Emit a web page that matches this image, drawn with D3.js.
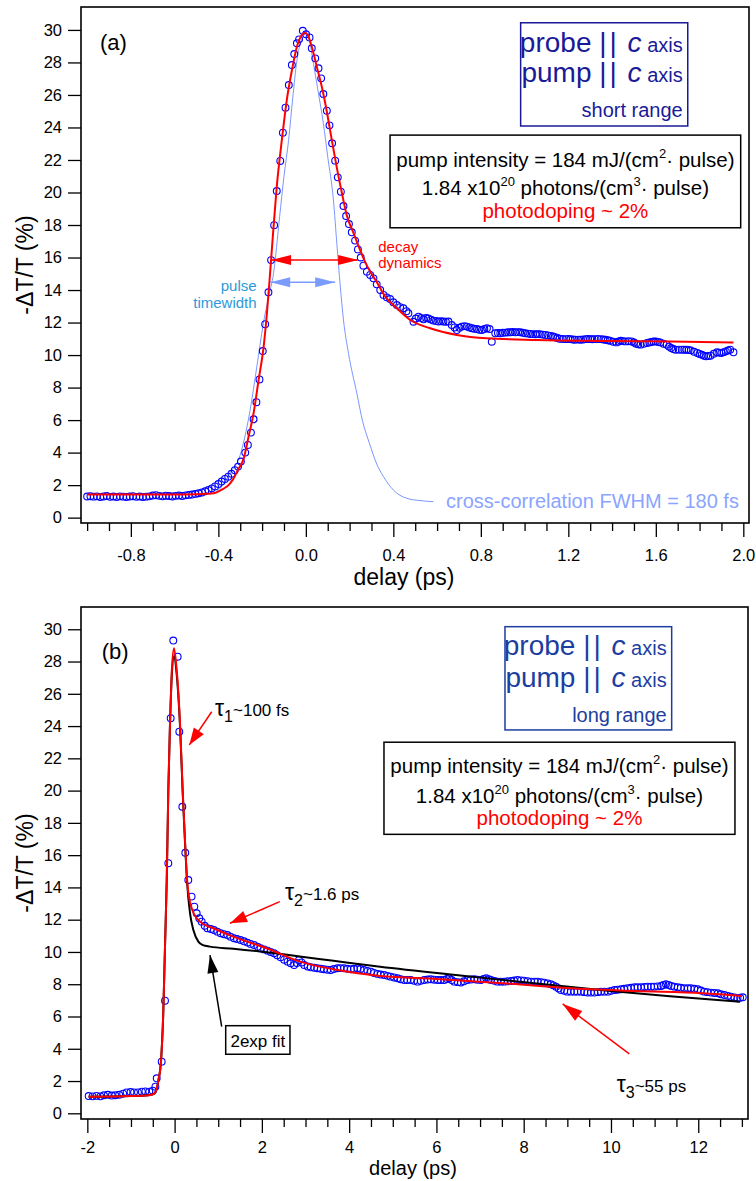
<!DOCTYPE html>
<html>
<head>
<meta charset="utf-8">
<script src="https://d3js.org/d3.v7.min.js"></script>
<style>
  body { margin: 0; background: #fff; font-family: "Liberation Sans", Arial, Helvetica, sans-serif; }
  .frame { fill: none; stroke: #000; stroke-width: 1.6px; }
  .axis path { display: none; }
  .axis line { stroke: #000; stroke-width: 1.3px; }
  .axis text { font-size: 16.5px; fill: #000; font-family: "Liberation Sans", Arial, sans-serif; }
  .dot { fill: none; stroke: #0000ff; stroke-width: 1.1px; }
  .fit { fill: none; stroke: #ff0000; stroke-width: 2px; }
  .fit2 { fill: none; stroke: #000; stroke-width: 2px; }
  .pulse { fill: none; stroke: #7b96ff; stroke-width: 1px; }
  .title { font-size: 23px; fill: #000; }
</style>
</head>
<body>
<script>
// ---------- panel (a): short range ----------
// measured -dT/T (%) vs delay (ps)
var dataA = [
  [-1.000,1.30],[-0.985,1.32],[-0.970,1.29],[-0.955,1.31],[-0.940,1.27],[-0.925,1.30],[-0.910,1.33],
  [-0.895,1.28],[-0.880,1.30],[-0.865,1.27],[-0.850,1.31],[-0.835,1.29],[-0.820,1.27],[-0.805,1.30],
  [-0.790,1.32],[-0.775,1.28],[-0.760,1.30],[-0.745,1.27],[-0.730,1.29],[-0.715,1.31],[-0.700,1.36],
  [-0.685,1.38],[-0.670,1.34],[-0.655,1.31],[-0.640,1.35],[-0.625,1.33],[-0.610,1.30],[-0.595,1.34],
  [-0.580,1.36],[-0.565,1.33],[-0.550,1.37],[-0.535,1.40],[-0.520,1.42],[-0.505,1.46],[-0.490,1.50],
  [-0.475,1.55],[-0.460,1.62],[-0.445,1.70],[-0.430,1.80],[-0.415,1.92],[-0.400,2.07],[-0.385,2.22],
  [-0.370,2.38],[-0.355,2.52],[-0.340,2.70],[-0.325,2.92],[-0.310,3.14],[-0.297,3.45],[-0.277,4.00],
  [-0.265,4.47],[-0.251,5.23],[-0.239,6.05],[-0.226,7.10],[-0.212,8.50],[-0.197,10.25],[-0.186,11.90],
  [-0.171,13.86],[-0.159,15.84],[-0.145,17.99],[-0.133,20.09],[-0.117,21.94],[-0.105,23.68],[-0.093,25.22],
  [-0.078,26.61],[-0.064,27.84],[-0.053,28.52],[-0.041,29.18],[-0.031,29.42],[-0.014,29.95],[0.001,29.73],
  [0.017,29.54],[0.027,28.87],[0.043,28.25],[0.058,27.64],[0.070,27.02],[0.080,26.06],[0.096,25.03],
  [0.108,24.13],[0.120,23.03],[0.134,21.96],[0.146,20.93],[0.160,20.05],[0.172,19.17],[0.184,18.55],
  [0.197,18.06],[0.210,17.55],[0.225,17.04],[0.238,16.50],[0.251,16.00],[0.263,15.50],[0.279,15.13],
  [0.294,14.93],[0.309,14.72],[0.324,14.35],[0.340,14.00],[0.355,13.70],[0.370,13.55],[0.385,13.45],
  [0.400,13.25],[0.416,13.08],[0.431,12.95],[0.446,12.88],[0.460,12.70],[0.469,12.57],[0.492,12.05],
  [0.503,12.25],[0.515,12.36],[0.527,12.28],[0.538,12.20],[0.550,12.28],[0.560,12.25],[0.572,12.18],
  [0.583,12.12],[0.595,12.10],[0.606,12.06],[0.618,12.08],[0.629,12.06],[0.640,12.05],[0.652,12.06],
  [0.667,11.85],[0.680,11.70],[0.690,11.54],[0.702,11.68],[0.713,11.75],[0.725,11.78],[0.736,11.75],
  [0.748,11.70],[0.759,11.65],[0.770,11.62],[0.782,11.60],[0.793,11.56],[0.805,11.54],[0.816,11.60],
  [0.828,11.65],[0.840,11.60],[0.850,10.82],[0.866,11.34],[0.878,11.36],[0.889,11.34],[0.900,11.37],
  [0.912,11.38],[0.924,11.40],[0.935,11.40],[0.946,11.42],[0.958,11.40],[0.970,11.41],[0.980,11.40],
  [0.992,11.37],[1.003,11.34],[1.015,11.32],[1.026,11.30],[1.038,11.29],[1.050,11.28],[1.060,11.29],
  [1.070,11.28],[1.083,11.26],[1.095,11.24],[1.107,11.21],[1.120,11.18],[1.130,11.14],[1.140,11.10],
  [1.150,11.05],[1.160,11.00],[1.175,10.99],[1.190,10.98],[1.200,10.99],[1.210,10.98],[1.220,10.96],
  [1.230,10.94],[1.245,10.95],[1.256,10.94],[1.268,10.96],[1.280,10.98],[1.290,10.99],[1.300,10.98],
  [1.310,10.97],[1.320,10.98],[1.335,10.99],[1.350,10.98],[1.360,10.96],[1.370,10.94],[1.380,10.91],
  [1.390,10.88],[1.405,10.82],[1.420,10.78],[1.430,10.83],[1.440,10.88],[1.450,10.86],[1.460,10.84],
  [1.475,10.85],[1.490,10.84],[1.500,10.77],[1.510,10.70],[1.520,10.66],[1.530,10.64],[1.545,10.69],
  [1.560,10.74],[1.570,10.78],[1.580,10.80],[1.590,10.83],[1.600,10.84],[1.610,10.81],[1.620,10.78],
  [1.635,10.70],[1.650,10.64],[1.660,10.52],[1.670,10.43],[1.680,10.37],[1.690,10.33],[1.705,10.33],
  [1.720,10.33],[1.730,10.33],[1.740,10.33],[1.750,10.31],[1.760,10.29],[1.775,10.20],[1.790,10.13],
  [1.800,10.07],[1.810,10.02],[1.820,9.96],[1.830,9.92],[1.840,9.94],[1.850,9.96],[1.865,10.08],
  [1.880,10.17],[1.890,10.15],[1.900,10.13],[1.910,10.18],[1.920,10.23],[1.930,10.28],[1.940,10.33],
  [1.955,10.17]
];
// fit curve (red)
var fitA = [
  [-1.00,1.42],[-0.80,1.42],[-0.60,1.42],[-0.50,1.44],[-0.45,1.47],[-0.422,1.50],[-0.38,1.75],
  [-0.35,2.05],[-0.331,2.40],[-0.31,2.95],[-0.285,3.60],[-0.262,4.98],[-0.239,6.42],[-0.216,8.47],
  [-0.193,10.52],[-0.178,12.57],[-0.166,14.6],[-0.151,17.3],[-0.133,20.36],[-0.11,23.2],[-0.087,25.7],
  [-0.064,27.5],[-0.041,28.97],[-0.018,29.7],[-0.006,29.83],[0.007,29.73],[0.027,28.97],[0.05,27.74],
  [0.073,26.5],[0.096,24.97],[0.119,23.2],[0.142,21.5],[0.165,19.95],[0.187,18.6],[0.218,17.5],
  [0.248,16.46],[0.279,15.5],[0.30,15.0],[0.324,14.5],[0.36,13.65],[0.416,12.88],[0.477,12.16],
  [0.568,11.65],[0.69,11.24],[0.827,11.03],[1.056,10.93],[1.36,10.87],[1.665,10.83],[1.955,10.77]
];
// cross-correlation pulse (light blue)
var pulseA = [
  [-0.42,1.45],[-0.38,2.0],[-0.34,2.9],[-0.308,3.55],[-0.28,4.9],[-0.255,6.6],[-0.224,9.3],
  [-0.194,11.96],[-0.17,13.6],[-0.148,15.0],[-0.12,18.5],[-0.10,21.0],[-0.079,23.2],[-0.06,25.8],
  [-0.041,28.1],[-0.02,29.4],[0.0,29.75],[0.015,29.4],[0.035,27.9],[0.055,26.3],[0.08,24.25],
  [0.10,22.2],[0.126,19.54],[0.142,16.8],[0.157,14.3],[0.172,12.16],[0.195,10.1],[0.233,7.65],
  [0.26,5.9],[0.29,4.6],[0.324,3.3],[0.355,2.52],[0.40,1.70],[0.461,1.19],[0.522,1.05],[0.583,0.98]
];
var ticksAMajor = [-0.8, -0.4, 0.0, 0.4, 0.8, 1.2, 1.6, 2.0];
var ticksAMinor = [-1.0,-0.9,-0.7,-0.6,-0.5,-0.3,-0.2,-0.1,0.1,0.2,0.3,0.5,0.6,0.7,0.9,1.0,1.1,1.3,1.4,1.5,1.7,1.8,1.9];

// ---------- panel (b): long range ----------
var dataB = [
  [-1.97,1.07],[-1.88,1.05],[-1.79,1.08],[-1.70,1.05],[-1.62,1.12],[-1.53,1.15],[-1.44,1.10],
  [-1.36,1.12],[-1.27,1.15],[-1.18,1.22],[-1.10,1.30],[-1.01,1.32],[-0.93,1.30],[-0.84,1.30],
  [-0.75,1.34],[-0.67,1.36],[-0.58,1.34],[-0.50,1.40],[-0.44,1.65],[-0.41,2.17],[-0.296,3.20],
  [-0.22,6.98],[-0.144,15.5],[-0.09,24.49],[-0.03,29.3],[0.07,28.3],[0.108,23.65],[0.177,19.0],
  [0.245,16.15],[0.314,14.46],[0.39,13.43],[0.452,12.81],[0.506,12.4],[0.566,12.09],[0.62,11.88],
  [0.69,11.62],[0.75,11.47],[0.83,11.42],[0.90,11.36],[0.98,11.26],[1.055,11.16],[1.13,11.10],
  [1.21,11.05],[1.28,10.95],[1.36,10.85],[1.43,10.80],[1.51,10.74],[1.59,10.66],[1.67,10.58],
  [1.74,10.50],[1.82,10.43],[1.90,10.33],[1.97,10.23],[2.05,10.16],[2.13,10.08],[2.20,10.00],
  [2.28,9.92],[2.35,9.80],[2.43,9.67],[2.51,9.52],[2.59,9.40],[2.66,9.30],[2.74,9.19],[2.80,9.32],
  [2.85,9.50],[2.91,9.35],[2.97,9.19],[3.05,9.10],[3.12,9.05],[3.20,9.02],[3.27,8.99],[3.35,8.96],
  [3.42,8.93],[3.50,8.90],[3.58,8.88],[3.65,8.94],[3.73,8.99],[3.80,9.00],[3.88,8.99],[3.96,8.96],
  [4.04,8.93],[4.11,8.96],[4.19,8.99],[4.26,8.94],[4.34,8.88],[4.42,8.83],[4.50,8.78],[4.57,8.70],
  [4.65,8.64],[4.72,8.60],[4.80,8.57],[4.88,8.52],[4.95,8.47],[5.03,8.42],[5.11,8.37],[5.18,8.31],
  [5.26,8.26],[5.33,8.26],[5.41,8.26],[5.49,8.21],[5.57,8.16],[5.64,8.21],[5.72,8.26],[5.80,8.29],
  [5.87,8.31],[5.95,8.28],[6.03,8.26],[6.10,8.26],[6.18,8.26],[6.24,8.32],[6.29,8.37],[6.35,8.26],
  [6.41,8.16],[6.49,8.13],[6.56,8.10],[6.63,8.18],[6.71,8.26],[6.79,8.29],[6.87,8.31],[6.94,8.28],
  [7.02,8.26],[7.08,8.32],[7.14,8.37],[7.20,8.31],[7.25,8.26],[7.33,8.21],[7.40,8.16],[7.48,8.16],
  [7.55,8.16],[7.63,8.18],[7.71,8.20],[7.78,8.23],[7.86,8.26],[7.94,8.24],[8.01,8.22],[8.09,8.19],
  [8.17,8.16],[8.25,8.16],[8.32,8.16],[8.40,8.13],[8.47,8.10],[8.55,8.05],[8.62,8.00],[8.68,7.93],
  [8.74,7.85],[8.80,7.74],[8.85,7.64],[8.93,7.59],[9.00,7.54],[9.08,7.54],[9.16,7.54],[9.23,7.54],
  [9.31,7.54],[9.39,7.51],[9.46,7.48],[9.54,7.48],[9.62,7.48],[9.70,7.51],[9.77,7.54],[9.85,7.54],
  [9.93,7.54],[10.00,7.59],[10.08,7.64],[10.15,7.66],[10.23,7.69],[10.30,7.72],[10.38,7.75],
  [10.46,7.78],[10.54,7.81],[10.61,7.81],[10.69,7.81],[10.77,7.83],[10.84,7.85],[10.92,7.85],
  [10.99,7.85],[11.07,7.87],[11.15,7.89],[11.20,7.95],[11.26,8.00],[11.32,7.95],[11.38,7.89],
  [11.45,7.85],[11.53,7.81],[11.60,7.78],[11.68,7.75],[11.76,7.75],[11.83,7.75],[11.91,7.72],
  [11.99,7.69],[12.06,7.61],[12.14,7.54],[12.21,7.51],[12.29,7.48],[12.37,7.46],[12.45,7.44],
  [12.52,7.38],[12.60,7.33],[12.68,7.28],[12.75,7.23],[12.83,7.18],[12.90,7.13],[12.96,7.16],[13.02,7.19]
];
// 3-exponential fit (red)
var fitB = [
  [-1.97,1.03],[-1.0,1.07],[-0.6,1.12],[-0.46,1.24],[-0.37,2.06],[-0.31,3.3],[-0.26,6.2],
  [-0.22,10.33],[-0.18,14.46],[-0.144,20.04],[-0.105,24.18],[-0.067,27.28],[-0.014,28.83],
  [0.048,27.48],[0.124,24.18],[0.185,20.04],[0.238,16.94],[0.292,14.26],[0.392,12.71],[0.58,11.88],
  [0.887,11.47],[1.345,10.95],[2.11,10.23],[2.87,9.40],[3.64,8.93],[4.71,8.51],[6.0,8.33],
  [7.53,8.06],[9.06,7.75],[10.59,7.58],[12.11,7.44],[13.0,7.27]
];
// 2-exponential fit (black)
var fit2expB = [
  [-1.97,1.03],[-1.0,1.07],[-0.6,1.12],[-0.46,1.24],[-0.37,2.06],[-0.31,3.3],[-0.26,6.2],
  [-0.22,10.33],[-0.18,14.46],[-0.144,20.04],[-0.105,24.18],[-0.067,27.0],[-0.014,28.3],
  [0.048,27.2],[0.124,24.0],[0.185,19.9],[0.238,16.8],[0.292,14.1],[0.353,12.4],[0.43,11.36],
  [0.544,10.64],[0.65,10.42],[0.81,10.33],[1.345,10.20],[2.11,9.98],[2.87,9.72],[3.64,9.45],
  [4.71,9.08],[6.77,8.48],[8.30,8.04],[9.82,7.63],[11.35,7.25],[12.96,6.92]
];
var ticksBMajor = [-2, 0, 2, 4, 6, 8, 10, 12];
var ticksBMinor = [-1.5,-1,-0.5,0.5,1,1.5,2.5,3,3.5,4.5,5,5.5,6.5,7,7.5,8.5,9,9.5,10.5,11,11.5,12.5,13];

var ticksY = [0, 2, 4, 6, 8, 10, 12, 14, 16, 18, 20, 22, 24, 26, 28, 30];

var svg = d3.select("body").append("svg")
    .attr("width", 756)
    .attr("height", 1181);

// arrow helper: line from (x1,y1) to tip (x2,y2), pixel coords
function arrow(g, x1, y1, x2, y2, color, len, half, both, width) {
    function head(tx, ty, fx, fy) {
        var a = Math.atan2(ty - fy, tx - fx);
        var bx = tx - len * Math.cos(a), by = ty - len * Math.sin(a);
        var px = -Math.sin(a) * half, py = Math.cos(a) * half;
        g.append("path")
            .attr("d", "M" + tx + "," + ty + "L" + (bx + px) + "," + (by + py) + "L" + (bx - px) + "," + (by - py) + "Z")
            .attr("fill", color);
    }
    g.append("line")
        .attr("x1", x1).attr("y1", y1).attr("x2", x2).attr("y2", y2)
        .attr("stroke", color).attr("stroke-width", width || 1.5);
    head(x2, y2, x1, y1);
    if (both) head(x1, y1, x2, y2);
}

function panel(o) {
    var x = d3.scaleLinear().domain(o.xDomain).range([81, o.right]);
    var y = d3.scaleLinear().domain(o.yDomain).range([o.bottom, o.top]);
    var g = svg.append("g");

    g.append("g").attr("class", "axis")
        .attr("transform", "translate(0," + o.bottom + ")")
        .call(d3.axisBottom(x).tickValues(o.minor).tickSize(8).tickFormat(""));
    g.append("g").attr("class", "axis")
        .attr("transform", "translate(0," + o.bottom + ")")
        .call(d3.axisBottom(x).tickValues(o.major).tickSize(14).tickPadding(o.pad).tickFormat(o.fmt));
    g.append("g").attr("class", "axis")
        .attr("transform", "translate(81,0)")
        .call(d3.axisLeft(y).tickValues(ticksY).tickSize(13).tickPadding(6).tickFormat(function(d) { return d; }));

    g.append("rect").attr("class", "frame")
        .attr("x", 81).attr("y", o.top)
        .attr("width", o.right - 81).attr("height", o.bottom - o.top);

    g.append("text").attr("class", "title")
        .attr("text-anchor", "middle")
        .attr("x", o.xlabelX).attr("y", o.xlabelY)
        .style("font-size", o.xlabelSize + "px")
        .text("delay (ps)");
    g.append("text").attr("class", "title")
        .attr("text-anchor", "middle")
        .attr("transform", "translate(33," + ((o.top + o.bottom) / 2) + ") rotate(-90)")
        .text("-\u0394T/T (%)");

    return { g: g, x: x, y: y };
}

var line = function(x, y) {
    return d3.line().x(function(d) { return x(d[0]); }).y(function(d) { return y(d[1]); })
        .curve(d3.curveMonotoneX);
};

function infoBox(g, x, y, box, lines) {
    g.append("rect")
        .attr("x", x(box[0])).attr("y", y(box[1]))
        .attr("width", x(box[2]) - x(box[0])).attr("height", y(box[3]) - y(box[1]))
        .attr("fill", "#fff").attr("stroke", "#000").attr("stroke-width", 1.5);
    var cx = x((box[0] + box[2]) / 2);
    var t1 = g.append("text").attr("x", cx).attr("y", y(lines[0])).attr("text-anchor", "middle").attr("font-size", 20.5);
    t1.append("tspan").text("pump intensity = 184 mJ/(cm");
    t1.append("tspan").attr("font-size", 13).attr("dy", -9).text("2");
    t1.append("tspan").attr("dy", 9).text("\u00b7 pulse)");
    var t2 = g.append("text").attr("x", cx).attr("y", y(lines[1])).attr("text-anchor", "middle").attr("font-size", 20.5);
    t2.append("tspan").text("1.84 x10");
    t2.append("tspan").attr("font-size", 13).attr("dy", -9).text("20");
    t2.append("tspan").attr("dy", 9).text(" photons/(cm");
    t2.append("tspan").attr("font-size", 13).attr("dy", -9).text("3");
    t2.append("tspan").attr("dy", 9).text("\u00b7 pulse)");
    g.append("text").attr("x", cx).attr("y", y(lines[2])).attr("text-anchor", "middle")
        .attr("font-size", 20.5).attr("fill", "#ff0000").text("photodoping ~ 2%");
}

function blueBox(g, x, y, box, right, lines, col, rangeText) {
    g.append("rect")
        .attr("x", x(box[0])).attr("y", y(box[1]))
        .attr("width", x(box[2]) - x(box[0])).attr("height", y(box[3]) - y(box[1]))
        .attr("fill", "#fff").attr("stroke", col).attr("stroke-width", 1.5);
    ["probe", "pump"].forEach(function(w, i) {
        var t = g.append("text").attr("x", x(right)).attr("y", y(lines[i]))
            .attr("text-anchor", "end").attr("fill", col);
        t.append("tspan").attr("font-size", 28).text(w + " ");
        t.append("tspan").attr("font-size", 28).attr("letter-spacing", 3).text("||");
        t.append("tspan").attr("font-size", 28).text(" ");
        t.append("tspan").attr("font-size", 28).attr("font-style", "italic").text("c");
        t.append("tspan").attr("font-size", 20).text(" axis");
    });
    g.append("text").attr("x", x(right)).attr("y", y(lines[2]))
        .attr("text-anchor", "end").attr("fill", col).attr("font-size", 20).text(rangeText);
}

function tau(g, px, py, idx, rest) {
    var t = g.append("text").attr("x", px).attr("y", py).attr("fill", "#000");
    t.append("tspan").attr("font-size", 23).text("\u03c4");
    t.append("tspan").attr("font-size", 16).attr("dy", 6).text(idx);
    t.append("tspan").attr("font-size", 17).attr("dy", -6).text(rest);
}

// ================= panel (a) =================
var A = panel({
    xDomain: [-1.028, 2.026], yDomain: [-0.33, 31.41],
    right: 749, top: 7, bottom: 523,
    major: ticksAMajor, minor: ticksAMinor, pad: 12,
    fmt: function(d) { return d.toFixed(1); },
    xlabelX: 404, xlabelY: 585, xlabelSize: 23
});
A.g.append("path").datum(pulseA).attr("class", "pulse").attr("d", line(A.x, A.y));
A.g.selectAll(".dotA").data(dataA).enter().append("circle")
    .attr("class", "dot").attr("r", 3.4)
    .attr("cx", function(d) { return A.x(d[0]); })
    .attr("cy", function(d) { return A.y(d[1]); });
A.g.append("path").datum(fitA).attr("class", "fit").attr("d", line(A.x, A.y));

A.g.append("text").attr("x", A.x(-0.941)).attr("y", A.y(28.76)).attr("font-size", 22).text("(a)");
blueBox(A.g, A.x, A.y, [0.982, 30.44, 1.746, 24.09], 1.723, [28.66, 26.81, 24.66], "#1a1a98", "short range");
infoBox(A.g, A.x, A.y, [0.385, 23.53, 1.988, 17.83], [21.58, 19.84, 18.41]);

arrow(A.g, A.x(-0.159), A.y(15.85), A.x(0.239), A.y(15.85), "#ff0000", 20, 5, true, 1.5);
arrow(A.g, A.x(-0.163), A.y(14.48), A.x(0.134), A.y(14.48), "#7a9cff", 20, 5, true, 1.5);
A.g.append("text").attr("x", A.x(0.331)).attr("y", A.y(16.36)).attr("font-size", 15).attr("fill", "#ff0000").text("decay");
A.g.append("text").attr("x", A.x(0.331)).attr("y", A.y(15.35)).attr("font-size", 15).attr("fill", "#ff0000").text("dynamics");
A.g.append("text").attr("x", A.x(-0.225)).attr("y", A.y(13.92)).attr("text-anchor", "end").attr("font-size", 15).attr("fill", "#2d9ad8").text("pulse");
A.g.append("text").attr("x", A.x(-0.225)).attr("y", A.y(12.88)).attr("text-anchor", "end").attr("font-size", 15).attr("fill", "#2d9ad8").text("timewidth");
A.g.append("text").attr("x", A.x(0.641)).attr("y", A.y(0.57)).attr("font-size", 20).attr("fill", "#8aa4ff").text("cross-correlation FWHM = 180 fs");

// ================= panel (b) =================
var B = panel({
    xDomain: [-2.145, 13.14], yDomain: [-0.353, 31.38],
    right: 748, top: 607, bottom: 1119,
    major: ticksBMajor, minor: ticksBMinor, pad: 8,
    fmt: function(d) { return String(d); },
    xlabelX: 413, xlabelY: 1175, xlabelSize: 20
});
B.g.selectAll(".dotB").data(dataB).enter().append("circle")
    .attr("class", "dot").attr("r", 3.4)
    .attr("cx", function(d) { return B.x(d[0]); })
    .attr("cy", function(d) { return B.y(d[1]); });
B.g.append("path").datum(fit2expB).attr("class", "fit2").attr("d", line(B.x, B.y));
B.g.append("path").datum(fitB).attr("class", "fit").attr("d", line(B.x, B.y));

B.g.append("text").attr("x", B.x(-1.67)).attr("y", B.y(28.16)).attr("font-size", 22).text("(b)");
blueBox(B.g, B.x, B.y, [7.571, 30.16, 11.391, 23.76], 11.276, [28.41, 26.44, 24.27], "#1c3ea0", "long range");
infoBox(B.g, B.x, B.y, [4.798, 23.0, 12.841, 17.29], [21.11, 19.22, 17.87]);

tau(B.g, B.x(0.926), B.y(24.63), "1", "~100 fs");
arrow(B.g, B.x(0.85), B.y(24.89), B.x(0.337), B.y(22.83), "#ff0000", 17, 6, false, 1.5);
tau(B.g, B.x(2.53), B.y(13.22), "2", "~1.6 ps");
arrow(B.g, B.x(2.41), B.y(13.12), B.x(1.27), B.y(11.78), "#ff0000", 17, 6, false, 1.5);
tau(B.g, B.x(10.13), B.y(1.32), "3", "~55 ps");
arrow(B.g, B.x(10.42), B.y(3.68), B.x(8.893), B.y(6.78), "#ff0000", 20, 6, false, 1.5);

B.g.append("rect")
    .attr("x", B.x(1.171)).attr("y", B.y(5.43))
    .attr("width", B.x(2.644) - B.x(1.171)).attr("height", B.y(3.66) - B.y(5.43))
    .attr("fill", "#fff").attr("stroke", "#000").attr("stroke-width", 1.5);
B.g.append("text").attr("x", B.x(1.908)).attr("y", B.y(4.13)).attr("text-anchor", "middle")
    .attr("font-size", 17).text("2exp fit");
arrow(B.g, B.x(1.079), B.y(5.37), B.x(0.811), B.y(9.81), "#000", 18, 5.5, false, 1.5);
</script>
</body>
</html>
